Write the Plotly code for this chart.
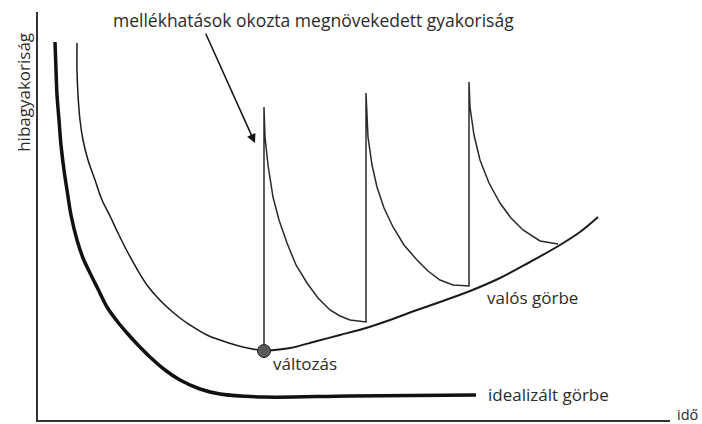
import plotly.graph_objects as go

# idealised failure-rate curve (time, rate)
ideal_t = [17, 18, 19, 21, 23, 26, 29, 33, 39, 45, 52, 60, 69, 79, 89, 100, 112, 127, 142, 162, 182, 225, 312, 438]
ideal_r = [378, 350, 325, 300, 275, 250, 230, 205, 180, 162, 147, 131, 113, 99, 87, 75, 63, 50, 40, 31, 26, 23, 24, 25]

# actual curve: early decline up to the change point
real_t = [39, 39, 40, 42, 45, 50, 57, 64, 72, 80, 89, 99, 109, 119, 129, 142, 152, 169, 185, 205, 226]
real_r = [377, 350, 325, 300, 280, 260, 240, 220, 204, 187, 169, 151, 135, 123, 113, 102, 95, 85, 79, 73, 69]

# actual curve: slow rise after the change point
rise_t = [226, 252, 279, 302, 328, 352, 379, 402, 432, 462, 492, 522, 542, 560]
rise_r = [69, 72, 79, 85, 92, 100, 110, 118, 129, 142, 158, 175, 188, 203]

# spikes caused by side effects of changes
spike_t = [226, 226, 227, 230, 235, 241, 249, 258, 269, 280, 292, 302, 312, 327,
           328, 328, 330, 334, 339, 346, 355, 366, 379, 390, 402, 415, 430,
           431, 431, 432, 436, 442, 451, 462, 473, 485, 502, 520]
spike_r = [69, 313, 283, 255, 223, 200, 177, 155, 137, 122, 110, 104, 100, 98,
           98, 327, 283, 255, 233, 212, 193, 175, 160, 149, 140, 135, 134,
           134, 338, 313, 285, 260, 237, 217, 202, 190, 179, 176]

change_t = [226]
change_r = [69]

FONT = "Open Sans"
TXT = "#2b2b2b"
FS = 17

fig = go.Figure()
fig.add_trace(go.Scatter(x=ideal_t, y=ideal_r, mode="lines",
                         line=dict(color="#111111", width=3.5, shape="spline", smoothing=1.0)))
fig.add_trace(go.Scatter(x=real_t, y=real_r, mode="lines",
                         line=dict(color="#1a1a1a", width=1.5, shape="spline", smoothing=1.0)))
fig.add_trace(go.Scatter(x=rise_t, y=rise_r, mode="lines",
                         line=dict(color="#1a1a1a", width=2, shape="spline", smoothing=1.0)))
fig.add_trace(go.Scatter(x=spike_t, y=spike_r, mode="lines",
                         line=dict(color="#2a2a2a", width=1.5)))
fig.add_trace(go.Scatter(x=change_t, y=change_r, mode="markers",
                         marker=dict(size=13, color="#5a5a5a", line=dict(color="#222222", width=1))))

fig.add_annotation(x=217, y=277, ax=167, ay=388, axref="x", ayref="y", text="",
                   showarrow=True, arrowhead=2, arrowsize=1.2, arrowwidth=1.5, arrowcolor="#111111")
fig.add_annotation(x=73, y=400, text="mellékhatások okozta megnövekedett gyakoriság",
                   showarrow=False, xanchor="left", font=dict(family=FONT, size=17.5, color=TXT))
fig.add_annotation(x=447, y=123, text="valós görbe", showarrow=False, xanchor="left",
                   font=dict(family=FONT, size=FS, color=TXT))
fig.add_annotation(x=233, y=57, text="változás", showarrow=False, xanchor="left",
                   font=dict(family=FONT, size=FS, color=TXT))
fig.add_annotation(x=448, y=26, text="idealizált görbe", showarrow=False, xanchor="left",
                   font=dict(family=FONT, size=FS, color=TXT))
fig.add_annotation(x=1.008, xref="paper", y=6, text="idő", showarrow=False, xanchor="left",
                   font=dict(family=FONT, size=14.5, color=TXT))
fig.add_annotation(x=-0.024, xref="paper", y=328, text="hibagyakoriság", showarrow=False,
                   xanchor="center", textangle=-90, font=dict(family=FONT, size=FS, color=TXT))

fig.update_layout(
    width=702, height=424,
    margin=dict(l=38, r=32, t=12, b=4),
    paper_bgcolor="white", plot_bgcolor="white",
    showlegend=False,
    xaxis=dict(range=[0, 632], showline=True, linecolor="#333333", linewidth=1.5,
               showgrid=False, zeroline=False, showticklabels=False, ticks=""),
    yaxis=dict(range=[0, 408], showline=True, linecolor="#333333", linewidth=1.5,
               showgrid=False, zeroline=False, showticklabels=False, ticks=""),
)

# drop the default body margin so the figure fills the window exactly
fig.write_html("out.html", config={"displayModeBar": False},
               post_script="document.body.style.margin='0';document.body.style.overflow='hidden';")
